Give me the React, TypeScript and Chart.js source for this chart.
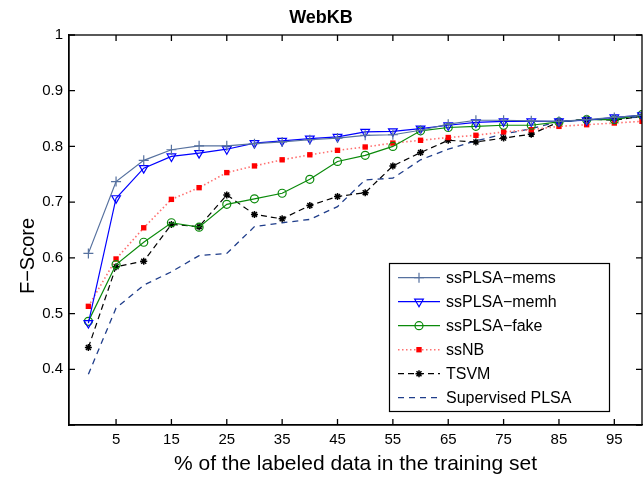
import React, { useEffect, useRef } from 'react';
import { Chart, registerables } from 'chart.js';
import { drawPoint } from 'chart.js/helpers';

Chart.register(...registerables);

const TITLE = 'WebKB';
const X_LABEL = '% of the labeled data in the training set';
const Y_LABEL = 'F\u2212Score';

const X_VALUES = [0, 5, 10, 15, 20, 25, 30, 35, 40, 45, 50, 55, 60, 65, 70, 75, 80, 85, 90, 95, 100];
const X_TICKS = [5, 15, 25, 35, 45, 55, 65, 75, 85, 95];
const Y_TICKS = [0.3, 0.4, 0.5, 0.6, 0.7, 0.8, 0.9, 1];

const SERIES_NAMES = ['ssPLSA\u2212mems', 'ssPLSA\u2212memh', 'ssPLSA\u2212fake', 'ssNB', 'TSVM', 'Supervised PLSA'];

const SSPLSA_MEMS = [0.608, 0.737, 0.775, 0.794, 0.801, 0.801, 0.805, 0.808, 0.812, 0.815, 0.820, 0.821, 0.829, 0.840, 0.847, 0.847, 0.846, 0.845, 0.848, 0.852, 0.856];
const SSPLSA_MEMH = [0.483, 0.707, 0.761, 0.782, 0.788, 0.795, 0.806, 0.810, 0.814, 0.817, 0.826, 0.827, 0.832, 0.838, 0.843, 0.845, 0.845, 0.845, 0.847, 0.852, 0.856];
const SSPLSA_FAKE = [0.486, 0.588, 0.628, 0.663, 0.655, 0.696, 0.706, 0.716, 0.741, 0.773, 0.784, 0.800, 0.828, 0.834, 0.836, 0.838, 0.838, 0.844, 0.848, 0.848, 0.857];
const SSNB = [0.513, 0.598, 0.654, 0.705, 0.726, 0.753, 0.765, 0.776, 0.785, 0.793, 0.799, 0.806, 0.811, 0.816, 0.820, 0.826, 0.830, 0.836, 0.839, 0.842, 0.845];
const TSVM = [0.439, 0.584, 0.594, 0.660, 0.656, 0.713, 0.678, 0.670, 0.694, 0.710, 0.717, 0.765, 0.789, 0.811, 0.808, 0.815, 0.822, 0.844, 0.849, 0.847, 0.854];
const SUPERVISED_PLSA = [0.391, 0.510, 0.551, 0.575, 0.604, 0.608, 0.656, 0.663, 0.669, 0.692, 0.740, 0.743, 0.776, 0.795, 0.810, 0.822, 0.832, 0.845, 0.848, 0.850, 0.853];

const FONT = '"Liberation Sans", Arial, sans-serif';

export default function App() {
  const ref = useRef<HTMLCanvasElement>(null);

  useEffect(() => {
    const canvas = ref.current;
    if (!canvas) return;
    const pts = (vals: number[]) => X_VALUES.map((x, i) => ({ x, y: vals[i] }));

    const datasets: any[] = [
      {
        label: SERIES_NAMES[0], data: pts(SSPLSA_MEMS),
        borderColor: '#56719f', borderWidth: 1.2,
        pointStyle: 'cross', pointRadius: 5, pointBorderWidth: 1.2,
        pointBorderColor: '#56719f', pointBackgroundColor: 'rgba(0,0,0,0)',
      },
      {
        label: SERIES_NAMES[1], data: pts(SSPLSA_MEMH),
        borderColor: '#0000ff', borderWidth: 1.2,
        pointStyle: 'triangle', pointRotation: 180, pointRadius: 5, pointBorderWidth: 1.2,
        pointBorderColor: '#0000ff', pointBackgroundColor: 'rgba(0,0,0,0)',
      },
      {
        label: SERIES_NAMES[2], data: pts(SSPLSA_FAKE),
        borderColor: '#0a8a0a', borderWidth: 1.2,
        pointStyle: 'circle', pointRadius: 4, pointBorderWidth: 1.2,
        pointBorderColor: '#0a8a0a', pointBackgroundColor: 'rgba(0,0,0,0)',
      },
      {
        label: SERIES_NAMES[3], data: pts(SSNB),
        borderColor: '#ff7070', borderWidth: 1.6, borderDash: [1.5, 2.5],
        pointStyle: 'rect', pointRadius: 3.8, pointBorderWidth: 0,
        pointBorderColor: '#ff0000', pointBackgroundColor: '#ff0000',
      },
      {
        label: SERIES_NAMES[4], data: pts(TSVM),
        borderColor: '#000000', borderWidth: 1.2, borderDash: [6, 4],
        pointStyle: 'star', pointRadius: 3.5, pointBorderWidth: 1.5,
        pointBorderColor: '#000000', pointBackgroundColor: '#000000',
      },
      {
        label: SERIES_NAMES[5], data: pts(SUPERVISED_PLSA),
        borderColor: '#1f3d8a', borderWidth: 1.3, borderDash: [6, 5],
        pointRadius: 0,
      },
    ];

    const framePlugin = {
      id: 'frame',
      afterDraw(chart: any) {
        const { ctx, chartArea: a, scales } = chart;
        ctx.save();
        ctx.strokeStyle = '#000';
        ctx.lineWidth = 1.3;
        ctx.setLineDash([]);
        ctx.strokeRect(a.left, a.top, a.right - a.left, a.bottom - a.top);
        const L = 6;
        ctx.beginPath();
        X_TICKS.forEach((v) => {
          const px = scales.x.getPixelForValue(v);
          ctx.moveTo(px, a.bottom); ctx.lineTo(px, a.bottom - L);
          ctx.moveTo(px, a.top); ctx.lineTo(px, a.top + L);
        });
        Y_TICKS.forEach((v) => {
          const py = scales.y.getPixelForValue(v);
          ctx.moveTo(a.left, py); ctx.lineTo(a.left + L, py);
          ctx.moveTo(a.right, py); ctx.lineTo(a.right - L, py);
        });
        ctx.stroke();

        // y-axis label
        ctx.save();
        ctx.translate(28, 256);
        ctx.rotate(-Math.PI / 2);
        ctx.fillStyle = '#000';
        ctx.font = `20px ${FONT}`;
        ctx.textAlign = 'center';
        ctx.textBaseline = 'middle';
        ctx.fillText(Y_LABEL, 0, 0);
        ctx.restore();

        // legend
        const bx = 389.5, by = 263.5, bw = 220, bh = 148;
        ctx.fillStyle = '#fff';
        ctx.fillRect(bx, by, bw, bh);
        ctx.strokeStyle = '#000';
        ctx.lineWidth = 1.2;
        ctx.strokeRect(bx, by, bw, bh);
        chart.data.datasets.forEach((ds: any, i: number) => {
          const y = 277.7 + 24 * i;
          ctx.save();
          ctx.strokeStyle = ds.borderColor;
          ctx.lineWidth = ds.borderWidth;
          ctx.setLineDash(ds.borderDash || []);
          ctx.beginPath();
          ctx.moveTo(398, y);
          ctx.lineTo(440, y);
          ctx.stroke();
          ctx.setLineDash([]);
          if (ds.pointRadius > 0) {
            ctx.strokeStyle = ds.pointBorderColor;
            ctx.fillStyle = ds.pointBackgroundColor;
            ctx.lineWidth = ds.pointBorderWidth;
            drawPoint(ctx, {
              pointStyle: ds.pointStyle,
              rotation: ds.pointRotation || 0,
              radius: ds.pointRadius,
              borderWidth: ds.pointBorderWidth,
            } as any, 419, y);
          }
          ctx.restore();
          ctx.fillStyle = '#000';
          ctx.font = `16px ${FONT}`;
          ctx.textAlign = 'left';
          ctx.textBaseline = 'middle';
          ctx.fillText(ds.label, 446, y + 1);
        });
        ctx.restore();
      },
    };

    const chart = new Chart(canvas, {
      type: 'line',
      data: { datasets },
      options: {
        responsive: false,
        animation: false,
        events: [],
        layout: { autoPadding: false, padding: { left: 0, right: 1, top: 0, bottom: 0 } },
        plugins: {
          legend: { display: false },
          tooltip: { enabled: false },
          title: {
            display: true,
            text: TITLE,
            color: '#000',
            font: { family: FONT, size: 18, weight: 'bold' },
            padding: { top: 7, bottom: 6.4 },
          },
        },
        scales: {
          x: {
            type: 'linear',
            min: -3.5,
            max: 100,
            afterBuildTicks: (s: any) => { s.ticks = X_TICKS.map((v) => ({ value: v })); },
            afterFit: (s: any) => { s.height = 52; s.paddingLeft = 0; s.paddingRight = 0; },
            grid: { drawOnChartArea: false, drawTicks: false },
            border: { display: true, color: '#000', width: 1.3 },
            ticks: {
              color: '#000', font: { family: FONT, size: 15 }, padding: 6,
              maxRotation: 0, autoSkip: false,
              callback: (v: any) => String(v),
            },
            title: {
              display: true, text: X_LABEL, color: '#000',
              font: { family: FONT, size: 21 }, padding: { top: 0, bottom: 0 },
            },
          },
          y: {
            type: 'linear',
            min: 0.3,
            max: 1,
            afterBuildTicks: (s: any) => { s.ticks = Y_TICKS.map((v) => ({ value: v })); },
            afterFit: (s: any) => { s.width = 69; s.paddingTop = 0; s.paddingBottom = 0; },
            grid: { drawOnChartArea: false, drawTicks: false },
            border: { display: true, color: '#000', width: 1.3 },
            ticks: {
              color: '#000', font: { family: FONT, size: 15 }, padding: 6,
              autoSkip: false,
              callback: (v: any) => (Math.abs(v - 0.3) < 1e-9 ? '' : Math.abs(v - 1) < 1e-9 ? '1' : Number(v).toFixed(1)),
            },
          },
        },
      } as any,
      plugins: [framePlugin],
    });
    return () => chart.destroy();
  }, []);

  return (
    <canvas
      ref={ref}
      width={643}
      height={477}
      style={{ position: 'fixed', left: 0, top: 0, width: 643, height: 477, background: '#fff' }}
    />
  );
}
